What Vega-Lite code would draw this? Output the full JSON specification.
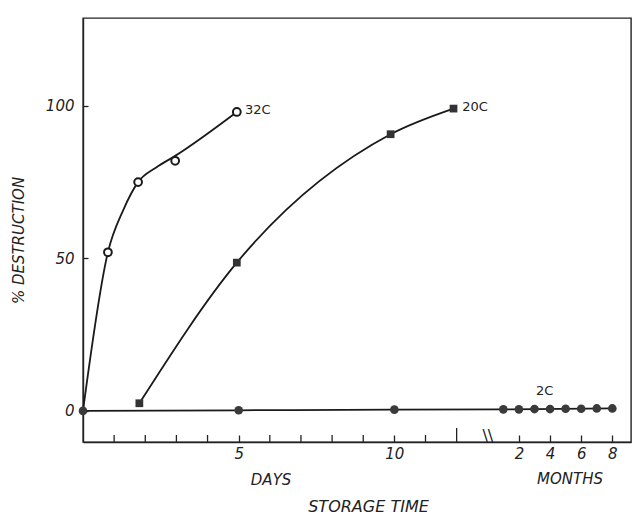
{
  "$schema": "https://vega.github.io/schema/vega-lite/v6.json",
  "width": 548,
  "height": 424,
  "autosize": {"type": "none"},
  "padding": {"left": 83, "top": 18, "right": 2, "bottom": 74},
  "background": "white",
  "config": {
    "view": {"stroke": "#222", "strokeWidth": 1.4},
    "font": "DejaVu Sans",
    "axis": {
      "domainColor": "#222",
      "domainWidth": 1.4,
      "tickColor": "#222",
      "tickWidth": 1.3,
      "labelColor": "#222",
      "labelFont": "DejaVu Sans",
      "labelFontStyle": "italic",
      "labelFontSize": 15,
      "titleColor": "#222",
      "titleFont": "DejaVu Sans",
      "titleFontStyle": "italic",
      "titleFontWeight": "normal",
      "titleFontSize": 15,
      "grid": false
    }
  },
  "datasets": {
    "obs": [
      {"series": "32C", "t": 0.8, "pct": 52},
      {"series": "32C", "t": 1.77, "pct": 75},
      {"series": "32C", "t": 2.96, "pct": 82},
      {"series": "32C", "t": 4.94, "pct": 98},
      {"series": "20C", "t": 1.81, "pct": 2.5},
      {"series": "20C", "t": 4.94, "pct": 48.6},
      {"series": "20C", "t": 9.88, "pct": 90.7},
      {"series": "20C", "t": 11.9, "pct": 99.1},
      {"series": "2C", "t": 0, "pct": 0},
      {"series": "2C", "t": 5, "pct": 0.2},
      {"series": "2C", "t": 10, "pct": 0.4},
      {"series": "2C", "t": 13.5, "month": 1, "pct": 0.5},
      {"series": "2C", "t": 14, "month": 2, "pct": 0.5},
      {"series": "2C", "t": 14.5, "month": 3, "pct": 0.6},
      {"series": "2C", "t": 15, "month": 4, "pct": 0.6},
      {"series": "2C", "t": 15.5, "month": 5, "pct": 0.7},
      {"series": "2C", "t": 16, "month": 6, "pct": 0.7},
      {"series": "2C", "t": 16.5, "month": 7, "pct": 0.8},
      {"series": "2C", "t": 17, "month": 8, "pct": 0.8}
    ],
    "curves": [
      {"series": "32C", "t": 0, "pct": 0},
      {"series": "32C", "t": 0.8, "pct": 52},
      {"series": "32C", "t": 1.3, "pct": 66},
      {"series": "32C", "t": 1.77, "pct": 75},
      {"series": "32C", "t": 2.35, "pct": 79.8},
      {"series": "32C", "t": 2.96, "pct": 83.6},
      {"series": "32C", "t": 4.94, "pct": 98},
      {"series": "20C", "t": 1.81, "pct": 2.5},
      {"series": "20C", "t": 4.94, "pct": 48.6},
      {"series": "20C", "t": 9.88, "pct": 90.7},
      {"series": "20C", "t": 11.9, "pct": 99.1},
      {"series": "2C", "t": 0, "pct": 0},
      {"series": "2C", "t": 5, "pct": 0.2},
      {"series": "2C", "t": 10, "pct": 0.4},
      {"series": "2C", "t": 13.5, "pct": 0.5},
      {"series": "2C", "t": 17, "pct": 0.8}
    ],
    "dayTicks": [
      {"t": 1, "base": -10.2, "top": -7.9},
      {"t": 2, "base": -10.2, "top": -7.9},
      {"t": 3, "base": -10.2, "top": -7.9},
      {"t": 4, "base": -10.2, "top": -7.9},
      {"t": 6, "base": -10.2, "top": -7.9},
      {"t": 7, "base": -10.2, "top": -7.9},
      {"t": 8, "base": -10.2, "top": -7.9},
      {"t": 9, "base": -10.2, "top": -7.9},
      {"t": 11, "base": -10.2, "top": -7.9},
      {"t": 12, "base": -10.2, "top": -5.6}
    ],
    "curveNames": [
      {"text": "32C", "t": 5.2, "pct": 98.5},
      {"text": "20C", "t": 12.18, "pct": 99.6},
      {"text": "2C", "t": 14.55, "pct": 6.6}
    ],
    "unitNames": [
      {"text": "DAYS", "t": 6.04, "pct": -22.7},
      {"text": "MONTHS", "t": 15.64, "pct": -22.3}
    ]
  },
  "layer": [
    {
      "data": {"name": "curves"},
      "mark": {"type": "line", "interpolate": "monotone", "color": "#1a1a1a", "strokeWidth": 1.8},
      "encoding": {
        "x": {
          "field": "t",
          "type": "quantitative",
          "scale": {"domain": [0, 17.6], "nice": false, "zero": false},
          "axis": {
            "title": "STORAGE TIME",
            "titleX": 285,
            "titleY": 56,
            "titleFontSize": 16,
            "values": [5, 10, 14, 15, 16, 17],
            "tickSize": -7,
            "labelPadding": 11,
            "labelFontSize": 15,
            "labelOverlap": false,
            "labelExpr": "datum.value <= 10 ? format(datum.value, 'd') : format((datum.value - 13) * 2, 'd')"
          }
        },
        "y": {
          "field": "pct",
          "type": "quantitative",
          "scale": {"domain": [-10.2, 128.8], "nice": false, "zero": false},
          "axis": {
            "title": "% DESTRUCTION",
            "values": [0, 50, 100],
            "tickSize": -5,
            "labelPadding": 14,
            "labelOverlap": false,
            "titlePadding": 19,
            "titleY": 222
          }
        },
        "detail": {"field": "series"}
      }
    },
    {
      "data": {"name": "dayTicks"},
      "mark": {"type": "rule", "color": "#222", "strokeWidth": 1.3},
      "encoding": {
        "x": {"field": "t", "type": "quantitative"},
        "y": {"field": "base", "type": "quantitative"},
        "y2": {"field": "top"}
      }
    },
    {
      "data": {"name": "obs"},
      "transform": [{"filter": "datum.series == '32C'"}],
      "mark": {"type": "point", "shape": "circle", "size": 60, "filled": false, "fill": "white", "fillOpacity": 1, "stroke": "#1a1a1a", "strokeWidth": 2, "opacity": 1},
      "encoding": {
        "x": {"field": "t", "type": "quantitative"},
        "y": {"field": "pct", "type": "quantitative"}
      }
    },
    {
      "data": {"name": "obs"},
      "transform": [{"filter": "datum.series == '20C'"}],
      "mark": {"type": "square", "size": 60, "color": "#333", "opacity": 1},
      "encoding": {
        "x": {"field": "t", "type": "quantitative"},
        "y": {"field": "pct", "type": "quantitative"}
      }
    },
    {
      "data": {"name": "obs"},
      "transform": [{"filter": "datum.series == '2C'"}],
      "mark": {"type": "circle", "size": 75, "color": "#3a3a3a", "opacity": 1},
      "encoding": {
        "x": {"field": "t", "type": "quantitative"},
        "y": {"field": "pct", "type": "quantitative"}
      }
    },
    {
      "data": {"values": [{"text": "\\\\", "t": 13, "pct": -8.2}]},
      "mark": {"type": "text", "fontSize": 16, "color": "#222", "align": "center", "baseline": "middle"},
      "encoding": {
        "x": {"field": "t", "type": "quantitative"},
        "y": {"field": "pct", "type": "quantitative"},
        "text": {"field": "text"}
      }
    },
    {
      "data": {"name": "curveNames"},
      "mark": {"type": "text", "align": "left", "baseline": "middle", "fontSize": 13, "color": "#222"},
      "encoding": {
        "x": {"field": "t", "type": "quantitative"},
        "y": {"field": "pct", "type": "quantitative"},
        "text": {"field": "text"}
      }
    },
    {
      "data": {"name": "unitNames"},
      "mark": {"type": "text", "align": "center", "baseline": "middle", "fontSize": 15, "fontStyle": "italic", "color": "#222"},
      "encoding": {
        "x": {"field": "t", "type": "quantitative"},
        "y": {"field": "pct", "type": "quantitative"},
        "text": {"field": "text"}
      }
    }
  ]
}
